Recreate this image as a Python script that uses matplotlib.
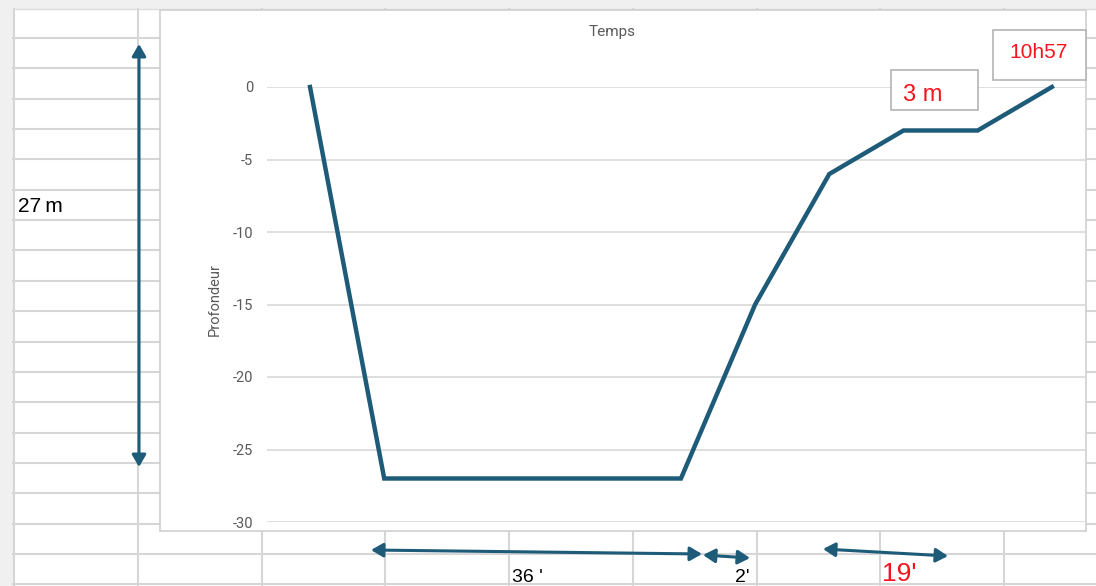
import numpy as np
import matplotlib
matplotlib.use('Agg')
import matplotlib.pyplot as plt
from matplotlib.patches import Rectangle

# profil de plongée : profondeur (m) par pas de temps
steps = list(range(11))
depth = [0, -27, -27, -27, -27, -27, -15, -6, -3, -3, 0]
yticks = [0, -5, -10, -15, -20, -25, -30]

W, H = 1096, 586
TEAL = '#1d5b79'
RED = '#f5141e'
GRID = '#d6d6d6'

fig = plt.figure(figsize=(W / 100, H / 100), dpi=100)
fig.patch.set_facecolor('white')


def px_axes(z):
    a = fig.add_axes([0, 0, 1, 1], zorder=z)
    a.set_xlim(0, W)
    a.set_ylim(H, 0)
    a.axis('off')
    a.patch.set_alpha(0)
    return a


# feuille de calcul en fond
bg = px_axes(0)
bg.add_patch(Rectangle((0, 0), W, 9, color='#f0f0f0', lw=0))
bg.add_patch(Rectangle((0, 0), 13, H, color='#f0f0f0', lw=0))
cols = 14 + 123.75 * np.arange(9)
rows = 38 + 30.35 * np.arange(19)
for x in cols:
    bg.plot([x, x], [9, H], color=GRID, lw=1.5)
for y in rows:
    bg.plot([13, W], [y, y], color=GRID, lw=1.5)
bg.plot([13, W], [9, 9], color='#dcdcdc', lw=1)

# cadre du graphique
bg.add_patch(Rectangle((160, 10), 926, 521, facecolor='white',
                       edgecolor='#d0d0d0', lw=1.2, zorder=5))
bg.text(612, 32, 'Temps', ha='center', va='center', fontsize=11,
        color='#595959', family='Roboto', zorder=6)
bg.text(215, 300, 'Profondeur', ha='center', va='center', rotation=90,
        fontsize=10.5, color='#595959', family='Roboto', zorder=6)

# zone de tracé
x0, x1, y0, y1 = 267, 1086, 87, 522
ax = fig.add_axes([x0 / W, 1 - y1 / H, (x1 - x0) / W, (y1 - y0) / H], zorder=2)
ax.patch.set_alpha(0)
ax.plot(steps, depth, color=TEAL, lw=3.2, solid_joinstyle='miter', clip_on=False)
ax.set_xlim(-0.58, 10.46)
ax.set_ylim(-30, 0)
ax.set_yticks(yticks)
ax.set_yticklabels([str(v) for v in yticks], family='Roboto', fontsize=10.5,
                   color='#595959')
ax.set_xticks([])
ax.tick_params(axis='y', length=0, pad=10)
ax.grid(axis='y', color='#d9d9d9', lw=1.2)
ax.set_axisbelow(True)
for s in ax.spines.values():
    s.set_visible(False)

# annotations
ov = px_axes(3)
arrow = dict(arrowstyle='<|-|>,head_length=0.55,head_width=0.32', color=TEAL,
             lw=2.2, mutation_scale=13, shrinkA=0, shrinkB=0)
ov.annotate('', xy=(139, 44), xytext=(139, 467), arrowprops=arrow)
ov.annotate('', xy=(371, 550), xytext=(702, 554), arrowprops=arrow)
ov.annotate('', xy=(703, 555), xytext=(750, 558), arrowprops=arrow)
ov.annotate('', xy=(823, 549), xytext=(948, 556), arrowprops=arrow)

ov.text(18, 207, '27\u2009m', ha='left', va='center', fontsize=15,
        family='Liberation Sans', color='black')
ov.text(512, 578, "36 '", ha='left', va='center', fontsize=14,
        family='Liberation Sans', color='black')
ov.text(735, 578, "2'", ha='left', va='center', fontsize=14,
        family='Liberation Sans', color='black')
ov.text(882, 574, "19'", ha='left', va='center', fontsize=19,
        family='Liberation Sans', color=RED)

ov.add_patch(Rectangle((891, 70), 87, 40, facecolor='white',
                       edgecolor='#b4b4b4', lw=1.2))
ov.text(903, 95, '3 m', ha='left', va='center', fontsize=17,
        family='Liberation Sans', color=RED)
ov.add_patch(Rectangle((993, 30), 93, 50, facecolor='white',
                       edgecolor='#b4b4b4', lw=1.2))
ov.text(1039, 53, '10h57', ha='center', va='center', fontsize=15,
        family='Liberation Sans', color=RED)

fig.savefig('out.png', dpi=100)
